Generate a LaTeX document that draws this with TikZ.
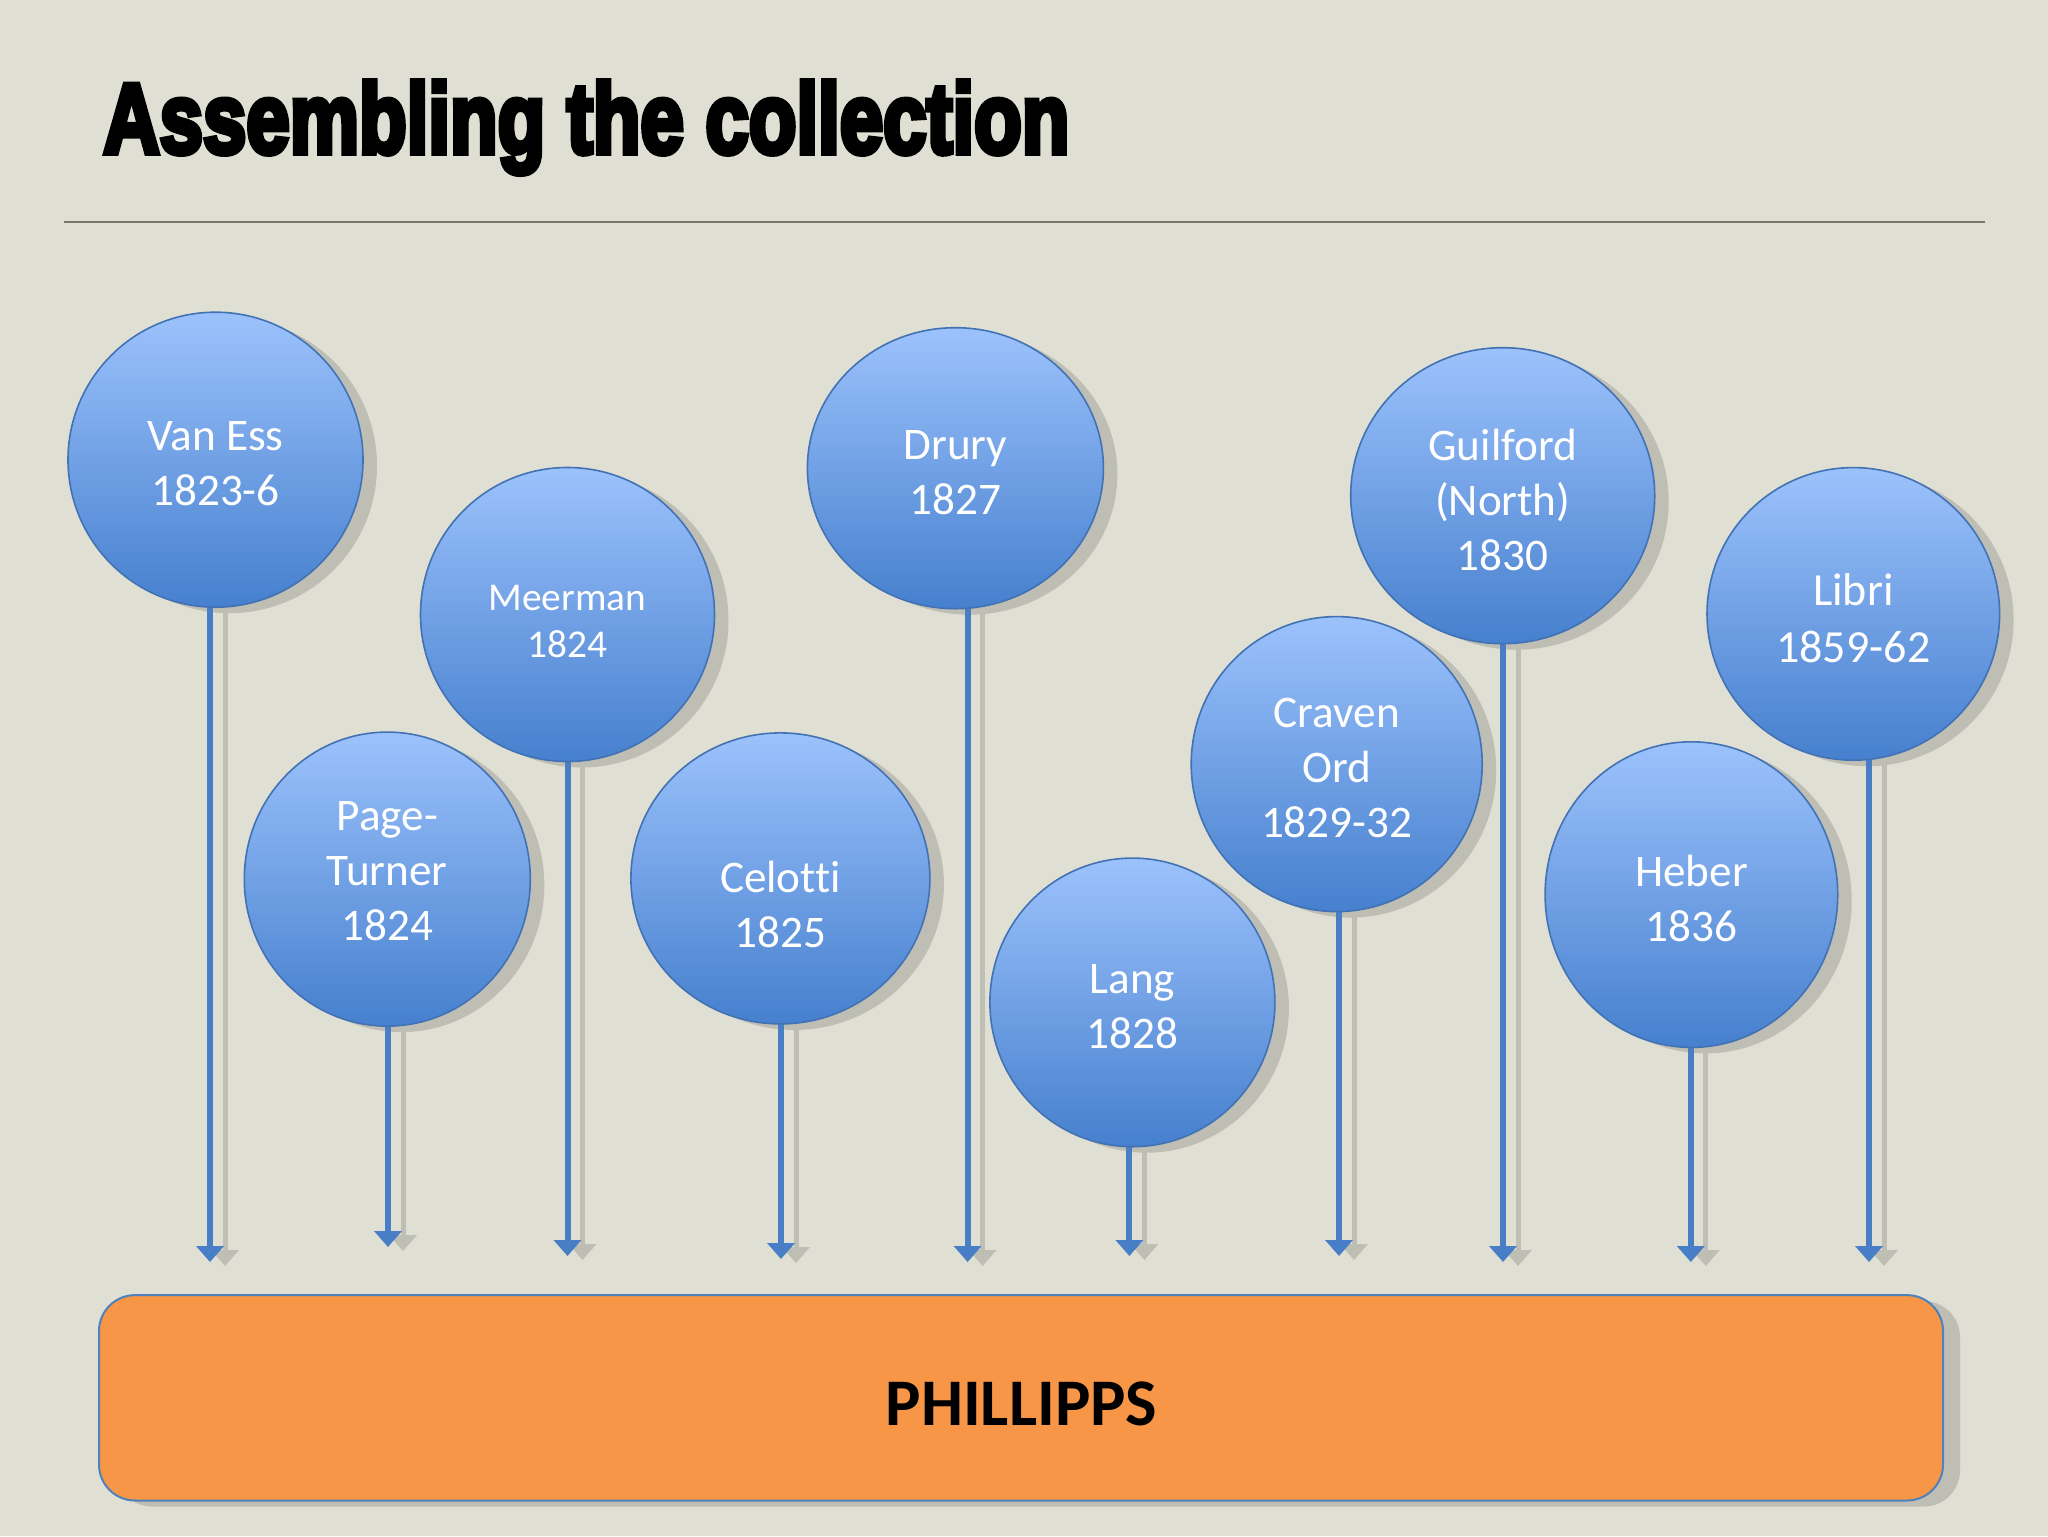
\documentclass[tikz,border=0pt]{standalone}
\usepackage{fontspec}
\setmainfont{Carlito}[Ligatures={NoCommon}]
\newfontfamily\titlefont{Liberation Sans}[UprightFont={* Bold},FakeBold=6]
\usetikzlibrary{shapes.geometric,arrows.meta,calc}
\definecolor{bg}{RGB}{223,223,211}
\definecolor{bubtop}{RGB}{156,194,252}
\definecolor{bubbot}{RGB}{70,128,206}
\definecolor{bubline}{RGB}{66,114,180}
\definecolor{arrblue}{RGB}{72,126,198}
\definecolor{shgray}{RGB}{190,190,180}
\definecolor{ruleg}{RGB}{120,120,108}
\definecolor{orangebox}{RGB}{247,150,70}
\definecolor{boxline}{RGB}{79,129,189}
\pgfdeclarelayer{bgl}
\pgfdeclarelayer{ashadow}
\pgfdeclarelayer{cshadow}
\pgfdeclarelayer{arrowl}
\pgfsetlayers{bgl,ashadow,cshadow,arrowl,main}
\tikzset{
 bubble/.style={ellipse, draw=bubline, line width=0.8pt, top color=bubtop, bottom color=bubbot,
   inner sep=0pt},
 bubtext/.style={text=white, align=center, inner sep=0pt, yshift=-2pt,
   font=\fontsize{22.6pt}{27.5pt}\selectfont},
 bubshadow/.style={ellipse, fill=shgray, inner sep=0pt},
 blarrow/.style={draw=arrblue, line width=3pt, -{Triangle[width=13.5pt,length=8pt]}},
 grarrow/.style={draw=shgray, line width=2.5pt, -{Triangle[width=13.5pt,length=8pt]}},
 phbox/.style={rectangle, rounded corners=18pt, fill=orangebox, draw=boxline, line width=1pt,
   minimum width=922pt, minimum height=102.7pt, inner sep=0pt},
 phshadow/.style={rectangle, rounded corners=18pt, fill=shgray,
   minimum width=922pt, minimum height=102.7pt, inner sep=0pt},
 ruleline/.style={draw=ruleg, line width=1pt}
}
% #1 text style, #2 name, #3 x, #4 y, #5 w, #6 h, #7 text, #8 arrow x, #9 tip y
\newcommand\mkbub[9]{%
\node[bubble,minimum width=#5,minimum height=#6,
  label={[bubtext,#1]center:#7}] (#2) at (#3,#4) {};
\coordinate (#2tip) at (#8,#9);
\coordinate (#2stip) at ([shift={(15,4)}]#2tip);
\begin{pgfonlayer}{cshadow}
\node[bubshadow,minimum width=#5,minimum height=#6] (#2sh) at ([shift={(14,6)}]#2.center) {};
\end{pgfonlayer}
\begin{pgfonlayer}{arrowl}
\draw[blarrow] (#2.center -| #2tip) -- (#2tip);
\end{pgfonlayer}
\begin{pgfonlayer}{ashadow}
\draw[grarrow] (#2sh.center -| #2stip) -- (#2stip);
\end{pgfonlayer}
}
\begin{document}
\begin{tikzpicture}[x=0.5pt,y=-0.5pt]
\begin{pgfonlayer}{bgl}
\fill[bg] (0,0) rectangle (2048,1536);
\end{pgfonlayer}
\useasboundingbox (0,0) rectangle (2048,1536);

\node[anchor=base west, inner sep=0pt] (title) at (103,153)
  {\titlefont\resizebox{483pt}{36pt}{Assembling the collection}};
\coordinate (rl) at (64,222);
\coordinate (rr) at (1985,222);
\draw[ruleline] (rl) -- (rr);

\mkbub{}{vaness}{215.5}{459.7}{147.5pt}{147.5pt}{Van Ess\\1823-6}{210}{1262}
\mkbub{yshift=-1.3pt,font=\fontsize{19.7pt}{23.5pt}\selectfont}{meerman}{567.5}{614.5}{147pt}{147pt}{Meerman\\1824}{567.5}{1256}
\mkbub{yshift=6pt}{page}{387.3}{879.1}{143pt}{147pt}{Page-\\Turner\\1824}{388}{1247}
\mkbub{yshift=-11pt}{celotti}{780.4}{878.4}{149.5pt}{145.5pt}{Celotti\\1825}{781}{1259}
\mkbub{}{drury}{955.4}{468.2}{148pt}{140.5pt}{Drury\\1827}{967.6}{1262}
\mkbub{}{lang}{1132.4}{1002.4}{142.5pt}{144.3pt}{Lang\\1828}{1129.4}{1256}
\mkbub{}{craven}{1336.7}{764.1}{145.5pt}{147.5pt}{Craven\\Ord\\1829-32}{1339}{1256}
\mkbub{}{guilford}{1502.7}{495.7}{152pt}{148pt}{Guilford\\(North)\\1830}{1503}{1262}
\mkbub{font=\fontsize{23pt}{28.7pt}\selectfont}{libri}{1853.3}{613.9}{146.3pt}{146.3pt}{Libri\\1859-62}{1869}{1262}
\mkbub{}{heber}{1691.4}{894.6}{146.3pt}{152.8pt}{Heber\\1836}{1690.8}{1262}

\node[phbox] (phil) at (1021,1397.8) {};
\begin{pgfonlayer}{cshadow}
\node[phshadow] (philsh) at ([shift={(17,6)}]phil.center) {};
\end{pgfonlayer}
\node[font=\fontsize{33.3pt}{39pt}\selectfont\bfseries, inner sep=0pt] (philtext) at (1021.5,1403.5) {PHILLIPPS};
\end{tikzpicture}
\end{document}
